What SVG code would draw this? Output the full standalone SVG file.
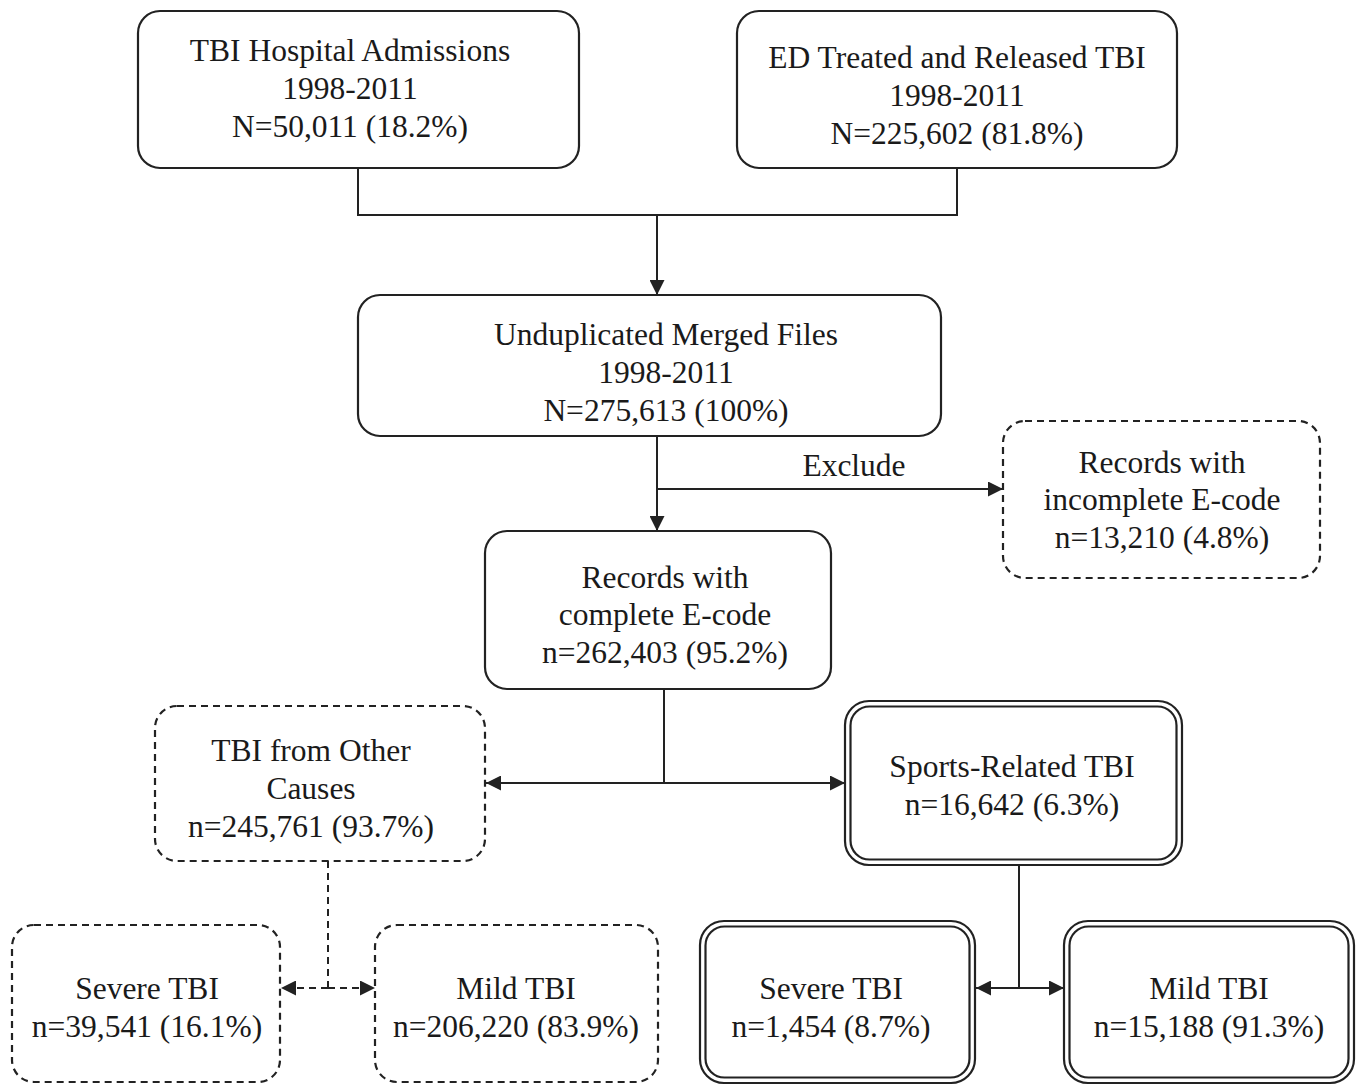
<svg xmlns="http://www.w3.org/2000/svg" width="1358" height="1085" viewBox="0 0 1358 1085">
<defs>
<style>
.box{fill:#fff;stroke:#222;stroke-width:2.2}
.dash{fill:#fff;stroke:#222;stroke-width:2.2;stroke-dasharray:7 5}
.dbl{fill:none;stroke:#222;stroke-width:2.2}
.ln{fill:none;stroke:#222;stroke-width:2}
.dln{fill:none;stroke:#222;stroke-width:2;stroke-dasharray:7 5}
text{font-family:"Liberation Serif","Times New Roman",serif;font-size:31.5px;fill:#1a1a1a;text-anchor:middle}
</style>
<marker id="ah" viewBox="0 0 10 10" refX="10" refY="5" markerWidth="8" markerHeight="7.5" orient="auto-start-reverse" markerUnits="strokeWidth">
<path d="M0,0 L10,5 L0,10 z" fill="#222"/>
</marker>
</defs>
<rect width="1358" height="1085" fill="#fff"/>

<g id="connectors">
<path class="ln" d="M358,168 V215 H957 V168"/>
<path class="ln" d="M657,215 V295" marker-end="url(#ah)"/>
<path class="ln" d="M657,436 V531" marker-end="url(#ah)"/>
<path class="ln" d="M657,489 H1003" marker-end="url(#ah)"/>
<text id="exclude-label" x="854" y="476">Exclude</text>
<path class="ln" d="M664,689 V783"/>
<path class="ln" d="M664,783 H486" marker-end="url(#ah)"/>
<path class="ln" d="M664,783 H845" marker-end="url(#ah)"/>
<path class="dln" d="M328,861 V988"/>
<path class="dln" d="M328,988 H281" marker-end="url(#ah)"/>
<path class="dln" d="M328,988 H375" marker-end="url(#ah)"/>
<path class="ln" d="M1019,865 V988"/>
<path class="ln" d="M1019,988 H976" marker-end="url(#ah)"/>
<path class="ln" d="M1019,988 H1064" marker-end="url(#ah)"/>
</g>

<g id="hospital-admissions">
<rect class="box" x="138" y="11" width="441" height="157" rx="22"/>
<text x="350" y="61">TBI Hospital Admissions</text>
<text x="350" y="99">1998-2011</text>
<text x="350" y="137">N=50,011 (18.2%)</text>
</g>

<g id="ed-treated">
<rect class="box" x="737" y="11" width="440" height="157" rx="22"/>
<text x="957" y="68">ED Treated and Released TBI</text>
<text x="957" y="106">1998-2011</text>
<text x="957" y="144">N=225,602 (81.8%)</text>
</g>

<g id="merged-files">
<rect class="box" x="358" y="295" width="583" height="141" rx="22"/>
<text x="666" y="345">Unduplicated Merged Files</text>
<text x="666" y="383">1998-2011</text>
<text x="666" y="421">N=275,613 (100%)</text>
</g>

<g id="incomplete-ecode">
<rect class="dash" x="1003" y="421" width="317" height="157" rx="22"/>
<text x="1162" y="473">Records with</text>
<text x="1162" y="510">incomplete E-code</text>
<text x="1162" y="548">n=13,210 (4.8%)</text>
</g>

<g id="complete-ecode">
<rect class="box" x="485" y="531" width="346" height="158" rx="22"/>
<text x="665" y="588">Records with</text>
<text x="665" y="625">complete E-code</text>
<text x="665" y="663">n=262,403 (95.2%)</text>
</g>

<g id="other-causes">
<rect class="dash" x="155" y="706" width="330" height="155" rx="22"/>
<text x="311" y="761">TBI from Other</text>
<text x="311" y="799">Causes</text>
<text x="311" y="837">n=245,761 (93.7%)</text>
</g>

<g id="sports-related">
<rect class="dbl" x="845" y="701" width="337" height="164" rx="24"/>
<rect class="dbl" x="850.5" y="706.5" width="326" height="153" rx="19"/>
<text x="1012" y="777">Sports-Related TBI</text>
<text x="1012" y="815">n=16,642 (6.3%)</text>
</g>

<g id="other-severe">
<rect class="dash" x="12" y="925" width="268" height="157" rx="22"/>
<text x="147" y="999">Severe TBI</text>
<text x="147" y="1037">n=39,541 (16.1%)</text>
</g>

<g id="other-mild">
<rect class="dash" x="375" y="925" width="283" height="157" rx="22"/>
<text x="516" y="999">Mild TBI</text>
<text x="516" y="1037">n=206,220 (83.9%)</text>
</g>

<g id="sports-severe">
<rect class="dbl" x="700" y="921" width="275" height="162" rx="24"/>
<rect class="dbl" x="705.5" y="926.5" width="264" height="151" rx="19"/>
<text x="831" y="999">Severe TBI</text>
<text x="831" y="1037">n=1,454 (8.7%)</text>
</g>

<g id="sports-mild">
<rect class="dbl" x="1064" y="921" width="290" height="162" rx="24"/>
<rect class="dbl" x="1069.5" y="926.5" width="279" height="151" rx="19"/>
<text x="1209" y="999">Mild TBI</text>
<text x="1209" y="1037">n=15,188 (91.3%)</text>
</g>
</svg>
